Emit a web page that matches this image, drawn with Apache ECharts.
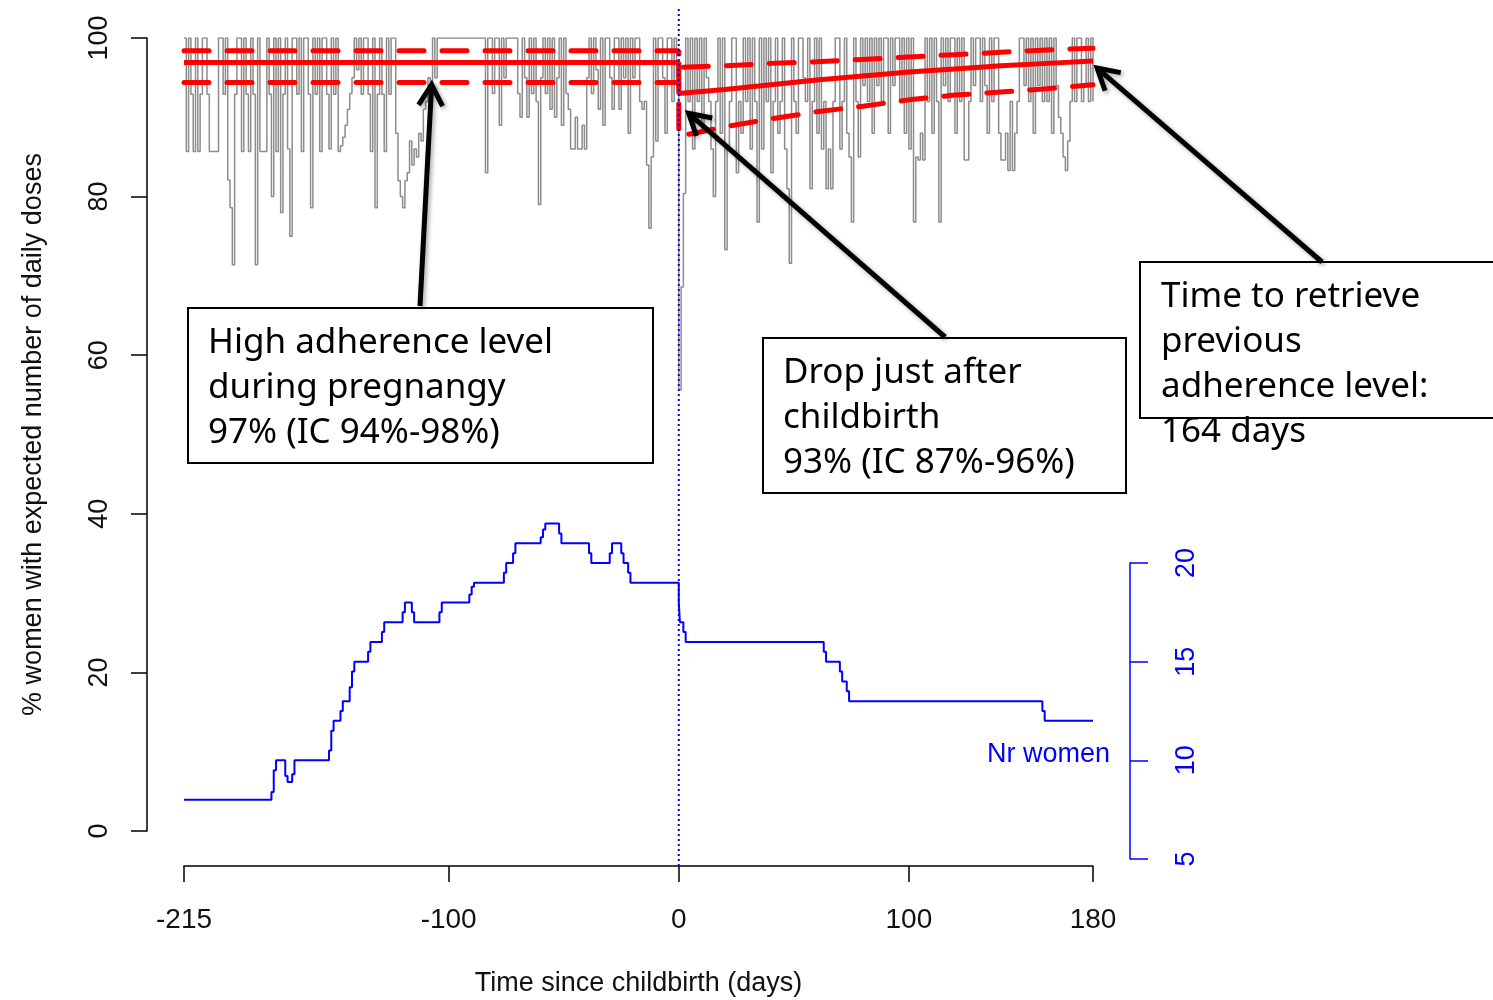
<!DOCTYPE html>
<html>
<head>
<meta charset="utf-8">
<script src="https://cdn.jsdelivr.net/npm/echarts@6/dist/echarts.min.js"></script>
<style>
  html, body { margin: 0; padding: 0; background: #fff; }
  #chart { width: 1493px; height: 1000px; }
</style>
</head>
<body>
<div id="chart"></div>
<script>
// daily % of women with expected number of doses, day -215 .. -1
const adherencePreg = [
  100, 85.7, 100, 92.9, 85.7, 100, 85.7, 92.9, 100, 100,
  92.9, 85.7, 85.7, 85.7, 85.7, 100, 100, 92.9, 100, 82.1,
  78.6, 71.4, 92.9, 100, 100, 85.7, 100, 92.9, 85.7, 100,
  92.9, 71.4, 100, 85.7, 85.7, 85.7, 100, 92.9, 80, 100,
  85.7, 100, 78, 92.9, 100, 86, 75, 100, 100, 92.9,
  100, 85.7, 100, 100, 92.9, 78.6, 100, 92.9, 100, 85.7,
  100, 100, 92.9, 86, 100, 92.9, 100, 85.7, 86.4, 87.5,
  89, 91, 93, 95, 100, 96, 100, 92.9, 100, 100,
  92.9, 85.7, 100, 78.6, 92.9, 100, 92.9, 85.7, 100, 92.9,
  100, 100, 88, 82, 80, 78.6, 82, 83, 87, 84,
  86, 85, 88, 87, 91, 92, 95, 94, 100, 95,
  100, 100, 100, 100, 100, 100, 100, 100, 100, 100,
  100, 100, 100, 100, 100, 100, 100, 100, 100, 100,
  100, 83, 100, 100, 93, 100, 100, 89, 100, 95,
  100, 100, 100, 100, 100, 93, 90, 100, 95, 90,
  100, 93, 100, 92, 79, 95, 100, 93, 100, 91,
  100, 90, 95, 100, 89, 100, 93, 91, 86, 86,
  90, 86, 86, 89, 86, 95, 100, 93, 100, 96,
  91, 100, 89, 100, 100, 95, 91, 100, 100, 91,
  100, 95, 100, 88, 100, 95, 100, 100, 92, 91,
  92, 84, 76, 85, 100, 87, 100, 100, 95, 88,
  100, 100, 92, 100, 95
];
// day 0 .. 180
const adherencePost = [
  55.6, 68.6, 80.4, 100, 92, 100, 86, 100, 92, 100,
  88, 100, 95, 92, 86, 80, 92, 100, 88, 100,
  73.3, 86, 92, 100, 100, 83, 92, 88, 100, 92,
  100, 86, 100, 92, 76.8, 100, 86, 100, 92, 100,
  83, 92, 100, 88, 92, 100, 86, 81, 71.6, 100,
  92, 88, 100, 100, 95, 92, 100, 81, 92, 100,
  88, 100, 86, 92, 81, 86, 81, 92, 100, 100,
  86, 92, 100, 88, 85, 76.8, 100, 92, 85, 100,
  94, 100, 92, 100, 88, 100, 94, 100, 92, 100,
  100, 88, 100, 94, 100, 100, 92, 100, 88, 100,
  86, 100, 76.8, 85, 84.6, 88, 84.6, 100, 92, 100,
  88, 100, 92, 76.8, 100, 94, 100, 92, 100, 100,
  88, 100, 92, 100, 84.6, 84.6, 92, 100, 94, 100,
  100, 92, 100, 94, 88, 100, 92, 100, 100, 88,
  84.6, 84.6, 88, 83.3, 92, 83.3, 88, 92, 100, 100,
  94, 100, 92, 100, 88, 100, 94, 100, 92, 100,
  92, 100, 88, 100, 94, 90, 88, 85, 83.3, 87,
  92, 100, 92, 100, 100, 92, 94, 100, 92, 100,
  92
];
const firstDay = -215;

// piecewise model fit and confidence interval
const fitDays = [-215, 0, 0, 20, 40, 60, 80, 100, 120, 140, 160, 180];
const fitMid  = [96.9, 96.9, 93.0, 93.5, 94.1, 94.7, 95.2, 95.7, 96.1, 96.5, 96.8, 97.1];
const fitLow  = [94.4, 94.4, 87.6, 88.8, 89.8, 90.7, 91.4, 92.2, 92.8, 93.2, 93.6, 94.1];
const fitHigh = [98.4, 98.4, 96.3, 96.5, 96.8, 97.0, 97.3, 97.6, 97.9, 98.2, 98.5, 98.7];

// number of women followed (right axis), change points
const nrDays = [-215, -177, -176, -175, -171, -170, -168, -167, -152, -151, -150, -147, -146, -143, -142, -141,
  -135, -134, -129, -128, -120, -119, -116, -115, -104, -103, -91, -90, -89, -76, -75, -72, -71,
  -60, -59, -58, -52, -51, -39, -38, -30, -29, -25, -24, -22, -21, 0, 0.5, 2, 3, 63, 64, 70, 71, 73, 74, 158, 159, 180];
const nrWomen = [8, 8.4, 9.5, 10, 9.2, 8.9, 9.3, 10, 10.5, 11.5, 12, 12.5, 13, 13.7, 14.5, 15,
  15.5, 16, 16.5, 17, 17.5, 18, 17.5, 17, 17.5, 18, 18.4, 18.8, 19, 19.5, 20, 20.5, 21,
  21.3, 21.7, 22, 21.5, 21, 20.5, 20, 20.5, 21, 20.5, 20, 19.5, 19, 18, 17, 16.5, 16, 15.5, 15, 14.5, 14, 13.5, 13, 12.5, 12, 12];

const xTicks = [-215, -100, 0, 100, 180];

const adherence = adherencePreg.concat(adherencePost);
const grayData = adherence.map((v, i) => [firstDay + i, v]);
const zip = (xs, ys) => xs.map((x, i) => [x, ys[i]]);

const axisFont = 'Liberation Sans, Arial, sans-serif';
const boxFont = '"Noto Sans", "DejaVu Sans", sans-serif';

const chart = echarts.init(document.getElementById('chart'));
chart.setOption({
  animation: false,
  backgroundColor: '#fff',
  grid: [
    { left: 184, width: 909, top: 38, height: 793, containLabel: false, outerBoundsMode: 'none' },
    { left: 184, width: 909, top: 563, height: 296, containLabel: false, outerBoundsMode: 'none' }
  ],
  xAxis: [
    {
      type: 'value', gridIndex: 0, min: -215, max: 180, position: 'bottom', offset: 35,
      axisLine: { onZero: false, lineStyle: { color: '#000', width: 1.5 } },
      axisTick: { customValues: xTicks, length: 16, lineStyle: { color: '#000', width: 1.5 } },
      axisLabel: { customValues: xTicks, margin: 40, fontSize: 28, color: '#111', fontFamily: axisFont },
      splitLine: { show: false },
      name: 'Time since childbirth (days)', nameLocation: 'middle', nameGap: 104,
      nameTextStyle: { fontSize: 27, color: '#111', fontFamily: axisFont }
    },
    { type: 'value', gridIndex: 1, min: -215, max: 180, show: false }
  ],
  yAxis: [
    {
      type: 'value', gridIndex: 0, min: 0, max: 100, interval: 20, position: 'left', offset: 37,
      axisLine: { show: true, onZero: false, lineStyle: { color: '#000', width: 1.5 } },
      axisTick: { show: true, length: 16, lineStyle: { color: '#000', width: 1.5 } },
      axisLabel: { rotate: 90, margin: 34, fontSize: 27, color: '#111', fontFamily: axisFont },
      splitLine: { show: false },
      name: '% women with expected number of daily doses', nameLocation: 'middle', nameGap: 100,
      nameTextStyle: { fontSize: 27, color: '#111', fontFamily: axisFont }
    },
    {
      type: 'value', gridIndex: 1, min: 5, max: 20, interval: 5, position: 'right', offset: 37,
      axisLine: { show: true, onZero: false, lineStyle: { color: '#0000ff', width: 1.5 } },
      axisTick: { show: true, length: 18, lineStyle: { color: '#0000ff', width: 1.5 } },
      axisLabel: { rotate: 90, margin: 43, fontSize: 27, color: '#0000ff', fontFamily: axisFont },
      splitLine: { show: false }
    }
  ],
  series: [
    {
      type: 'line', xAxisIndex: 0, yAxisIndex: 0, step: 'end', symbol: 'none',
      data: grayData, lineStyle: { color: '#8c8c8c', width: 1.5 }, z: 1
    },
    {
      type: 'line', xAxisIndex: 0, yAxisIndex: 0, symbol: 'none', data: zip(fitDays, fitHigh),
      lineStyle: { color: '#ff0000', width: 5, type: [25, 18], cap: 'round' }, z: 3
    },
    {
      type: 'line', xAxisIndex: 0, yAxisIndex: 0, symbol: 'none', data: zip(fitDays, fitLow),
      lineStyle: { color: '#ff0000', width: 5, type: [25, 18], cap: 'round' }, z: 3
    },
    {
      type: 'line', xAxisIndex: 0, yAxisIndex: 0, symbol: 'none', data: zip(fitDays, fitMid),
      lineStyle: { color: '#ff0000', width: 5 }, z: 3
    },
    {
      type: 'line', xAxisIndex: 0, yAxisIndex: 0, symbol: 'none', clip: false,
      data: [[0, -4.4], [0, 104]],
      lineStyle: { color: '#0000ff', width: 2, type: [2, 3] }, z: 4
    },
    {
      type: 'line', xAxisIndex: 1, yAxisIndex: 1, step: 'end', symbol: 'none', clip: false,
      data: zip(nrDays, nrWomen), lineStyle: { color: '#0000ff', width: 2 }, z: 2
    }
  ]
});

// annotation boxes and arrows
function arrow(tail, tip) {
  const ang = Math.atan2(tail[1] - tip[1], tail[0] - tip[0]);
  const len = 24, spread = Math.PI / 6;
  const a1 = [tip[0] + len * Math.cos(ang + spread), tip[1] + len * Math.sin(ang + spread)];
  const a2 = [tip[0] + len * Math.cos(ang - spread), tip[1] + len * Math.sin(ang - spread)];
  const style = { stroke: '#000', lineWidth: 5, fill: null, lineCap: 'butt', lineJoin: 'miter',
    shadowBlur: 4, shadowColor: 'rgba(0,0,0,0.35)', shadowOffsetX: 2, shadowOffsetY: 2 };
  return [
    { type: 'line', shape: { x1: tail[0], y1: tail[1], x2: tip[0], y2: tip[1] }, style: style, z: 20 },
    { type: 'polyline', shape: { points: [a1, tip, a2] }, style: style, z: 20 }
  ];
}
function box(x, y, w, h, tx, ty, lines) {
  const els = [{ type: 'rect', shape: { x: x, y: y, width: w, height: h },
    style: { fill: '#fff', stroke: '#000', lineWidth: 2 }, z: 10 }];
  lines.forEach((t, i) => {
    els.push({ type: 'text', x: tx, y: ty + i * 45, z: 11,
      style: { text: t, font: '35px ' + boxFont, fill: '#000', verticalAlign: 'middle', align: 'left' } });
  });
  return els;
}
const toPx = p => chart.convertToPixel({ gridIndex: 0 }, p);
const graphics = []
  .concat(box(188, 308, 465, 155, 208, 343, ['High adherence level', 'during pregnangy', '97% (IC 94%-98%)']))
  .concat(box(763, 338, 363, 155, 783, 373, ['Drop just after', 'childbirth', '93% (IC 87%-96%)']))
  .concat(box(1140, 262, 380, 156, 1161, 297, ['Time to retrieve', 'previous', 'adherence level:', '164 days']))
  .concat(arrow([420, 306], toPx([-107.4, 94.1])))
  .concat(arrow([945, 337], toPx([4.3, 90.5])))
  .concat(arrow([1322, 262], toPx([181.8, 96.2])))
  .concat([{ type: 'text', x: 1110, y: 755, z: 5,
    style: { text: 'Nr women', font: '27px ' + axisFont, fill: '#0000ff', align: 'right', verticalAlign: 'middle' } }]);
chart.setOption({ graphic: graphics });
</script>
</body>
</html>
